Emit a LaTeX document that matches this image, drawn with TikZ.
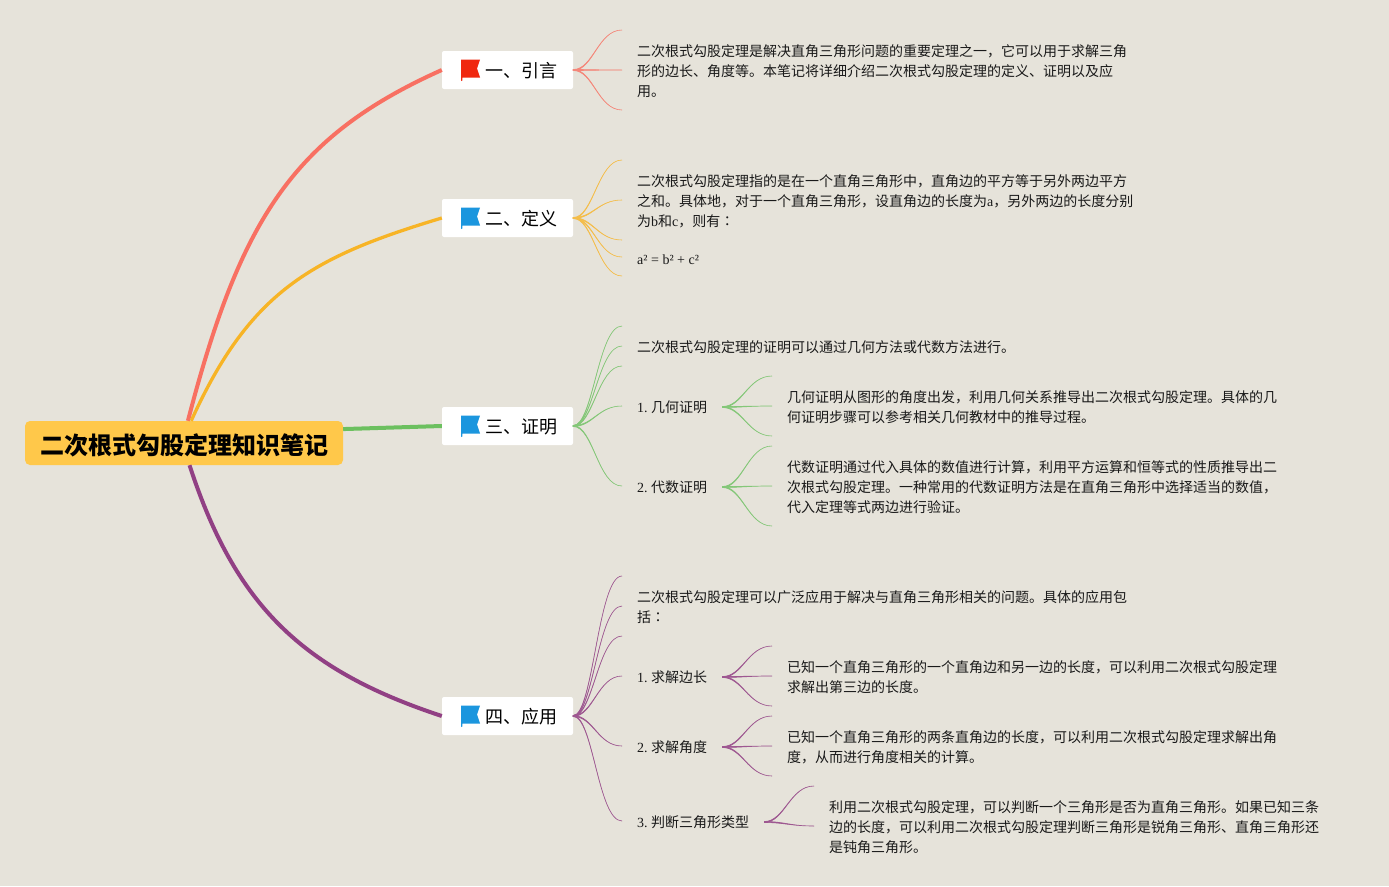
\documentclass[tikz,border=0pt]{standalone}
\usepackage{fontspec}
\setmainfont{Liberation Serif}
\newfontfamily\cjk{Noto Sans CJK SC}
\newfontfamily\cjktc{Noto Sans CJK TC}
\newcommand{\lat}[1]{{\rmfamily #1}}
\newcommand{\wcolon}{{\cjktc ：}}
\usetikzlibrary{positioning,calc}
\definecolor{paper}{RGB}{230,227,218}
\definecolor{rootc}{RGB}{255,200,74}
\definecolor{redc}{RGB}{248,112,98}
\definecolor{yelc}{RGB}{247,180,38}
\definecolor{grnc}{RGB}{108,192,95}
\definecolor{purc}{RGB}{145,64,132}
\definecolor{flagred}{RGB}{240,40,15}
\definecolor{flagblue}{RGB}{27,150,222}
\tikzset{
	root/.style={fill=rootc, rounded corners=5pt, minimum width=318pt, minimum height=44pt, inner sep=0pt, text height=22pt, text depth=0pt, font=\cjk\bfseries\fontsize{24}{28}\selectfont},
	topic/.style={fill=white, rounded corners=2pt, minimum height=38pt, text width=99pt, text height=15.6pt, text depth=0pt, inner xsep=16pt, inner ysep=0pt, align=right, font=\cjk\fontsize{18}{22}\selectfont},
	sub/.style={anchor=west, inner xsep=15pt, inner ysep=0pt, align=left, text=black!90, font=\cjk\fontsize{14}{20}\selectfont},
	main/.style={line width=4pt},
	leaf/.style={out=0, in=180, out distance=20pt, in distance=24pt},
	leafback/.style={out=180, in=0, out distance=24pt, in distance=20pt},
	pics/flagicon/.style={code={
		\fill[#1] (0,0) -- (19,0) -- (16,9) -- (19,18) -- (1.3,18) -- (1.3,21) -- (0,21.5) -- cycle;
	}}
}
\newcommand{\twig}[3]{\filldraw[#1,line width=.6pt] ($(#2)+(0,-.5)$) to[leaf] (#3) to[leafback] ($(#2)+(0,.5)$) -- cycle;}
\begin{document}
\begin{tikzpicture}[x=1pt,y=-1pt]
\useasboundingbox (0,0) rectangle (1389,886);
\fill[paper] (0,0) rectangle (1389,886);

		\node[root] (root) at (184,443){二次根式勾股定理知识笔记};
		\node[topic] (t1) at (507.5,70){一、引言};
		\node[topic] (t2) at (507.5,218){二、定义};
		\node[topic] (t3) at (507.5,426){三、证明};
		\node[topic] (t4) at (507.5,716){四、应用};

\pic at (461,59.5) {flagicon=flagred};
\pic at (461,207.5) {flagicon=flagblue};
\pic at (461,415.5) {flagicon=flagblue};
\pic at (461,705.5) {flagicon=flagblue};

\draw[main,redc] (root.80) .. controls (240,221) and (292,137) .. (t1.west);
\draw[main,yelc,line width=3.3pt] (root.72) .. controls (250,291) and (312,257) .. (t2.west);
\draw[main,grnc] (root.5.4) -- (t3.west);
\draw[main,purc] (root.-76) .. controls (235,605) and (302,670) .. (t4.west);

		\node[sub] (s1) at (622,71){二次根式勾股定理是解决直角三角形问题的重要定理之一，它可以用于求解三角\\形的边长、角度等。本笔记将详细介绍二次根式勾股定理的定义、证明以及应\\用。};
		\node[sub] (s2) at (622,201){二次根式勾股定理指的是在一个直角三角形中，直角边的平方等于另外两边平方\\之和。具体地，对于一个直角三角形，设直角边的长度为\lat{a}，另外两边的长度分别\\为\lat{b}和\lat{c}，则有\wcolon};
		\node[sub] (s2f) at (622,260){\lat{a² = b² + c²}};

		\node[sub] (s31) at (622,347){二次根式勾股定理的证明可以通过几何方法或代数方法进行。};
		\node[sub] (s32) at (622,407){\lat{1.\ }几何证明};
		\node[sub] (s33) at (622,487){\lat{2.\ }代数证明};
		\node[sub] (l32) at (772,407){几何证明从图形的角度出发，利用几何关系推导出二次根式勾股定理。具体的几\\何证明步骤可以参考相关几何教材中的推导过程。};
		\node[sub] (l33) at (772,487){代数证明通过代入具体的数值进行计算，利用平方运算和恒等式的性质推导出二\\次根式勾股定理。一种常用的代数证明方法是在直角三角形中选择适当的数值，\\代入定理等式两边进行验证。};

		\node[sub] (s41) at (622,607){二次根式勾股定理可以广泛应用于解决与直角三角形相关的问题。具体的应用包\\括\wcolon};
		\node[sub] (s42) at (622,677){\lat{1.\ }求解边长};
		\node[sub] (s43) at (622,747){\lat{2.\ }求解角度};
		\node[sub] (s44) at (622,822){\lat{3.\ }判断三角形类型};
		\node[sub] (l42) at (772,677){已知一个直角三角形的一个直角边和另一边的长度，可以利用二次根式勾股定理\\求解出第三边的长度。};
		\node[sub] (l43) at (772,747){已知一个直角三角形的两条直角边的长度，可以利用二次根式勾股定理求解出角\\度，从而进行角度相关的计算。};
		\node[sub] (l44) at (814,827){利用二次根式勾股定理，可以判断一个三角形是否为直角三角形。如果已知三条\\边的长度，可以利用二次根式勾股定理判断三角形是锐角三角形、直角三角形还\\是钝角三角形。};

\foreach \y in {30,70,110} {
	\coordinate (a\y) at (622,\y);
	\twig{redc!80!paper}{t1.east}{a\y}
}
\foreach \y in {160,200,240,257,276} {
	\coordinate (b\y) at (622,\y);
	\twig{yelc!80!paper}{t2.east}{b\y}
}
\foreach \y in {326,346,366,406,486} {
	\coordinate (c\y) at (622,\y);
	\twig{grnc!80!paper}{t3.east}{c\y}
}
\foreach \f/\y in {s32/376,s32/406,s32/436,s33/446,s33/486,s33/526} {
	\coordinate (d\y) at (772,\y);
	\twig{grnc!80!paper}{\f.east}{d\y}
}
\foreach \y in {576,606,636,676,746,821} {
	\coordinate (e\y) at (622,\y);
	\twig{purc!85!paper}{t4.east}{e\y}
}
\foreach \f/\y in {s42/646,s42/676,s42/706,s43/716,s43/746,s43/776} {
	\coordinate (f\y) at (772,\y);
	\twig{purc!85!paper}{\f.east}{f\y}
}
\foreach \y in {786,826} {
	\coordinate (g\y) at (814,\y);
	\twig{purc!85!paper}{s44.east}{g\y}
}
\end{tikzpicture}
\end{document}
